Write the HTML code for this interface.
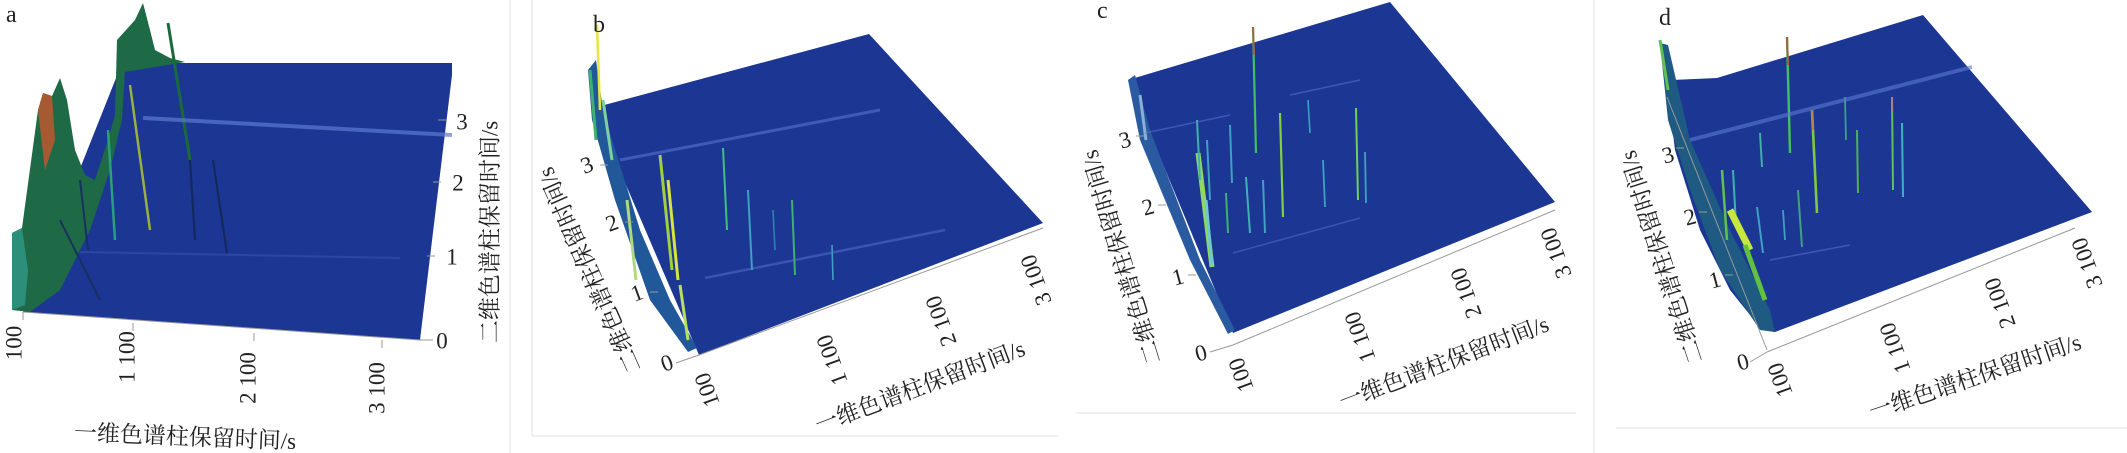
<!DOCTYPE html>
<html><head><meta charset="utf-8"><style>
html,body{margin:0;padding:0;background:#fff;}
svg{display:block;}
text{font-family:"Liberation Serif","Noto Serif CJK SC",serif;fill:#222;}
.t{font-size:23px;}
.ti{font-size:23px;}
.lb{font-size:24px;}
</style></head><body>
<svg width="2127" height="453" viewBox="0 0 2127 453" xmlns="http://www.w3.org/2000/svg">
<rect width="2127" height="453" fill="#fff"/>
<g stroke="#e6e6e6" stroke-width="1.2" fill="none">
<line x1="510" y1="0" x2="510" y2="453"/>
<line x1="532" y1="0" x2="532" y2="436"/>
<line x1="532" y1="436" x2="1058" y2="436"/>
<line x1="1076" y1="413" x2="1576" y2="413"/>
<line x1="1594" y1="0" x2="1594" y2="453"/>
<line x1="1616" y1="428" x2="2127" y2="428"/>
</g>

<!-- ===== Panel a ===== -->
<polygon points="23,312 122,63 452,63 452,75 420,340" fill="#1c3694"/>
<polygon points="12,310 12,233 22,228 38,110 43,93 52,96 60,78 67,100 75,150 85,175 95,180 108,140 115,115 117,40 135,20 143,3 150,30 155,50 170,58 185,62 125,72 122,120 110,170 90,230 60,290 30,312" fill="#1f6a46"/>
<polygon points="38,110 43,93 52,96 55,140 45,170" fill="#a65a32"/>
<polygon points="12,310 12,233 22,228 28,270 25,305" fill="#2c8f7a"/>
<g fill="none">
<line x1="168" y1="23" x2="190" y2="160" stroke="#1c6a3a" stroke-width="3"/>
<line x1="130" y1="85" x2="150" y2="230" stroke="#9ab040" stroke-width="2.5"/>
<line x1="108" y1="130" x2="115" y2="240" stroke="#2aa07a" stroke-width="2.5"/>
<line x1="213" y1="160" x2="227" y2="253" stroke="#14285a" stroke-width="2"/>
<line x1="190" y1="160" x2="195" y2="240" stroke="#14285a" stroke-width="2"/>
<line x1="80" y1="180" x2="88" y2="250" stroke="#173060" stroke-width="2"/>
<line x1="60" y1="220" x2="100" y2="300" stroke="#173060" stroke-width="2"/>
</g>
<line x1="143" y1="118" x2="452" y2="135" stroke="#5b7bd0" stroke-width="4" opacity="0.7"/>
<line x1="80" y1="252" x2="400" y2="258" stroke="#3a58b0" stroke-width="2" opacity="0.5"/>
<g stroke="#999" stroke-width="1"><line x1="23" y1="312" x2="420" y2="340"/><line x1="420" y1="340" x2="433" y2="340"/>
<line x1="23" y1="312" x2="23" y2="320"/><line x1="133" y1="323" x2="133" y2="331"/><line x1="254" y1="333" x2="254" y2="341"/><line x1="382" y1="340" x2="382" y2="348"/>
<line x1="427" y1="256" x2="435" y2="256"/><line x1="433" y1="182" x2="441" y2="182"/><line x1="438" y1="120" x2="446" y2="120"/></g>
<text class="lb" x="6" y="22">a</text>
<g class="t">
<text transform="translate(14,343) rotate(-90)" text-anchor="middle" dominant-baseline="central">100</text>
<text transform="translate(127,357) rotate(-90)" text-anchor="middle" dominant-baseline="central">1 100</text>
<text transform="translate(248,378) rotate(-90)" text-anchor="middle" dominant-baseline="central">2 100</text>
<text transform="translate(377,388) rotate(-90)" text-anchor="middle" dominant-baseline="central">3 100</text>
<text x="442" y="341" text-anchor="middle" dominant-baseline="central">0</text>
<text x="452" y="257" text-anchor="middle" dominant-baseline="central">1</text>
<text x="458" y="183" text-anchor="middle" dominant-baseline="central">2</text>
<text x="462" y="122" text-anchor="middle" dominant-baseline="central">3</text>
</g>
<text class="ti" transform="translate(490,232) rotate(-90)" text-anchor="middle" dominant-baseline="central">二维色谱柱保留时间/s</text>
<text class="ti" transform="translate(185,437) rotate(2.3)" text-anchor="middle" dominant-baseline="central">一维色谱柱保留时间/s</text>

<!-- ===== Panel b ===== -->
<polygon points="593,108 869,34 1043,223 699,355" fill="#1c3694"/>
<polygon points="588,70 596,60 603,110 640,230 670,300 697,348 688,352 650,300 615,200 592,120" fill="#21589a"/>
<g fill="none">
<line x1="597" y1="25" x2="600" y2="110" stroke="#e6e640" stroke-width="2.5"/>
<line x1="590" y1="70" x2="596" y2="140" stroke="#40b070" stroke-width="3"/>
<line x1="603" y1="100" x2="612" y2="160" stroke="#7fd0a0" stroke-width="3"/>
<line x1="627" y1="200" x2="636" y2="280" stroke="#b0d880" stroke-width="3"/>
<line x1="660" y1="155" x2="672" y2="270" stroke="#a0d040" stroke-width="3"/>
<line x1="668" y1="180" x2="678" y2="280" stroke="#d8e440" stroke-width="3"/>
<line x1="680" y1="285" x2="688" y2="340" stroke="#b8e060" stroke-width="3"/>
<line x1="723" y1="148" x2="727" y2="230" stroke="#40c080" stroke-width="2"/>
<line x1="748" y1="190" x2="752" y2="270" stroke="#40a0c0" stroke-width="2"/>
<line x1="773" y1="210" x2="775" y2="250" stroke="#3080b0" stroke-width="1.6"/>
<line x1="792" y1="200" x2="795" y2="275" stroke="#40b070" stroke-width="2"/>
<line x1="832" y1="245" x2="833" y2="280" stroke="#40a0c0" stroke-width="1.6"/>
</g>
<line x1="620" y1="160" x2="880" y2="110" stroke="#5b7bd0" stroke-width="3" opacity="0.55"/>
<line x1="705" y1="278" x2="945" y2="230" stroke="#5b7bd0" stroke-width="2.5" opacity="0.45"/>
<g stroke="#999" stroke-width="1"><line x1="676" y1="363" x2="699" y2="355"/><line x1="699" y1="355" x2="1043" y2="228"/>
<line x1="600" y1="165" x2="608" y2="165"/><line x1="625" y1="222" x2="633" y2="222"/><line x1="650" y1="292" x2="658" y2="292"/></g>
<text class="lb" x="593" y="32">b</text>
<g class="t">
<text transform="translate(707,390) rotate(-110)" text-anchor="middle" dominant-baseline="central">100</text>
<text transform="translate(832,360) rotate(-110)" text-anchor="middle" dominant-baseline="central">1 100</text>
<text transform="translate(941,321) rotate(-110)" text-anchor="middle" dominant-baseline="central">2 100</text>
<text transform="translate(1036,280) rotate(-110)" text-anchor="middle" dominant-baseline="central">3 100</text>
<text transform="translate(667,363) rotate(-20)" text-anchor="middle" dominant-baseline="central">0</text>
<text transform="translate(637,293) rotate(-20)" text-anchor="middle" dominant-baseline="central">1</text>
<text transform="translate(612,223) rotate(-20)" text-anchor="middle" dominant-baseline="central">2</text>
<text transform="translate(587,165) rotate(-20)" text-anchor="middle" dominant-baseline="central">3</text>
</g>
<text class="ti" transform="translate(590,270) rotate(-114)" text-anchor="middle" dominant-baseline="central">二维色谱柱保留时间/s</text>
<text class="ti" transform="translate(920,387) rotate(-20.7)" text-anchor="middle" dominant-baseline="central">一维色谱柱保留时间/s</text>

<!-- ===== Panel c ===== -->
<polygon points="1128,80 1390,2 1555,202 1233,333" fill="#1c3694"/>
<polygon points="1128,80 1135,75 1150,130 1200,260 1235,330 1228,334 1190,260 1140,140" fill="#2a5aa0"/>
<g fill="none">
<line x1="1140" y1="95" x2="1146" y2="140" stroke="#8ab0d8" stroke-width="3"/>
<line x1="1198" y1="153" x2="1212" y2="267" stroke="#90d860" stroke-width="5"/>
<line x1="1206" y1="200" x2="1212" y2="265" stroke="#70c8d0" stroke-width="3"/>
<line x1="1197" y1="120" x2="1200" y2="180" stroke="#40b0b0" stroke-width="2"/>
<line x1="1207" y1="140" x2="1210" y2="200" stroke="#40a0c0" stroke-width="2"/>
<line x1="1230" y1="125" x2="1232" y2="183" stroke="#40a0c0" stroke-width="2"/>
<line x1="1253" y1="27" x2="1256" y2="153" stroke="#40c060" stroke-width="2.2"/>
<line x1="1253" y1="27" x2="1254" y2="55" stroke="#b06040" stroke-width="2"/>
<line x1="1280" y1="113" x2="1283" y2="217" stroke="#80d040" stroke-width="2.2"/>
<line x1="1308" y1="100" x2="1310" y2="133" stroke="#40a0c0" stroke-width="1.6"/>
<line x1="1246" y1="177" x2="1250" y2="233" stroke="#40b0b0" stroke-width="2"/>
<line x1="1263" y1="180" x2="1265" y2="233" stroke="#40a0c0" stroke-width="2"/>
<line x1="1226" y1="193" x2="1228" y2="233" stroke="#40b070" stroke-width="2"/>
<line x1="1323" y1="160" x2="1325" y2="207" stroke="#40a0c0" stroke-width="1.8"/>
<line x1="1356" y1="108" x2="1358" y2="200" stroke="#70d050" stroke-width="2"/>
<line x1="1365" y1="152" x2="1366" y2="203" stroke="#40a0c0" stroke-width="1.8"/>
</g>
<line x1="1145" y1="133" x2="1230" y2="115" stroke="#5b7bd0" stroke-width="1.5" opacity="0.5"/>
<line x1="1290" y1="95" x2="1360" y2="80" stroke="#5b7bd0" stroke-width="1.5" opacity="0.5"/>
<line x1="1233" y1="253" x2="1360" y2="218" stroke="#5b7bd0" stroke-width="1.5" opacity="0.45"/>
<g stroke="#999" stroke-width="1"><line x1="1210" y1="352" x2="1233" y2="345"/><line x1="1233" y1="345" x2="1555" y2="210"/>
<line x1="1136" y1="136" x2="1144" y2="136"/><line x1="1158" y1="205" x2="1166" y2="205"/><line x1="1188" y1="275" x2="1196" y2="275"/></g>
<text class="lb" x="1097" y="18">c</text>
<g class="t">
<text transform="translate(1241,375) rotate(-110)" text-anchor="middle" dominant-baseline="central">100</text>
<text transform="translate(1360,337) rotate(-110)" text-anchor="middle" dominant-baseline="central">1 100</text>
<text transform="translate(1466,293) rotate(-110)" text-anchor="middle" dominant-baseline="central">2 100</text>
<text transform="translate(1556,253) rotate(-110)" text-anchor="middle" dominant-baseline="central">3 100</text>
<text transform="translate(1201,353) rotate(-15)" text-anchor="middle" dominant-baseline="central">0</text>
<text transform="translate(1178,277) rotate(-15)" text-anchor="middle" dominant-baseline="central">1</text>
<text transform="translate(1148,207) rotate(-15)" text-anchor="middle" dominant-baseline="central">2</text>
<text transform="translate(1125,140) rotate(-15)" text-anchor="middle" dominant-baseline="central">3</text>
</g>
<text class="ti" transform="translate(1122,257) rotate(-107)" text-anchor="middle" dominant-baseline="central">二维色谱柱保留时间/s</text>
<text class="ti" transform="translate(1444,363) rotate(-21)" text-anchor="middle" dominant-baseline="central">一维色谱柱保留时间/s</text>

<!-- ===== Panel d ===== -->
<polygon points="1662,43 1672,80 1717,78 1923,15 2092,212 1775,332 1762,330 1730,290 1700,230 1675,150" fill="#1c3694"/>
<polygon points="1660,43 1668,45 1690,140 1730,230 1770,310 1775,332 1760,330 1720,270 1690,190 1668,120" fill="#1e5a82"/>
<g fill="none">
<line x1="1660" y1="40" x2="1668" y2="90" stroke="#60c050" stroke-width="3"/>
<line x1="1722" y1="170" x2="1727" y2="240" stroke="#60c050" stroke-width="2.5"/>
<line x1="1733" y1="170" x2="1736" y2="225" stroke="#40b0b0" stroke-width="2"/>
<line x1="1730" y1="210" x2="1750" y2="250" stroke="#c8e840" stroke-width="7"/>
<line x1="1745" y1="245" x2="1765" y2="300" stroke="#60c040" stroke-width="5"/>
<line x1="1760" y1="133" x2="1762" y2="167" stroke="#40b0a0" stroke-width="2"/>
<line x1="1757" y1="207" x2="1763" y2="253" stroke="#40a0c0" stroke-width="2"/>
<line x1="1783" y1="210" x2="1785" y2="240" stroke="#40a0c0" stroke-width="1.8"/>
<line x1="1787" y1="37" x2="1790" y2="153" stroke="#40c060" stroke-width="2.4"/>
<line x1="1787" y1="37" x2="1788" y2="65" stroke="#b05a3a" stroke-width="2"/>
<line x1="1798" y1="190" x2="1802" y2="247" stroke="#40a080" stroke-width="2"/>
<line x1="1812" y1="110" x2="1817" y2="213" stroke="#80c840" stroke-width="2.6"/>
<line x1="1812" y1="110" x2="1813" y2="130" stroke="#c08040" stroke-width="2"/>
<line x1="1845" y1="97" x2="1846" y2="140" stroke="#40a080" stroke-width="1.8"/>
<line x1="1857" y1="130" x2="1858" y2="193" stroke="#50b050" stroke-width="2"/>
<line x1="1892" y1="97" x2="1893" y2="190" stroke="#60c060" stroke-width="2"/>
<line x1="1892" y1="97" x2="1892" y2="112" stroke="#b08080" stroke-width="2"/>
<line x1="1902" y1="123" x2="1903" y2="197" stroke="#40b0c0" stroke-width="2"/>
</g>
<line x1="1690" y1="140" x2="1972" y2="67" stroke="#5b7bd0" stroke-width="4" opacity="0.6"/>
<line x1="1770" y1="260" x2="1850" y2="245" stroke="#5b7bd0" stroke-width="1.5" opacity="0.5"/>
<g stroke="#999" stroke-width="1"><line x1="1667" y1="97" x2="1767" y2="350"/><line x1="1767" y1="352" x2="2075" y2="228"/><line x1="1750" y1="362" x2="1767" y2="352"/>
<line x1="1676" y1="148" x2="1684" y2="148"/><line x1="1699" y1="212" x2="1707" y2="212"/><line x1="1725" y1="275" x2="1733" y2="275"/></g>
<text class="lb" x="1659" y="25">d</text>
<g class="t">
<text transform="translate(1780,380) rotate(-110)" text-anchor="middle" dominant-baseline="central">100</text>
<text transform="translate(1895,348) rotate(-110)" text-anchor="middle" dominant-baseline="central">1 100</text>
<text transform="translate(2000,303) rotate(-110)" text-anchor="middle" dominant-baseline="central">2 100</text>
<text transform="translate(2087,263) rotate(-110)" text-anchor="middle" dominant-baseline="central">3 100</text>
<text transform="translate(1743,362) rotate(-15)" text-anchor="middle" dominant-baseline="central">0</text>
<text transform="translate(1715,280) rotate(-15)" text-anchor="middle" dominant-baseline="central">1</text>
<text transform="translate(1690,217) rotate(-15)" text-anchor="middle" dominant-baseline="central">2</text>
<text transform="translate(1668,155) rotate(-15)" text-anchor="middle" dominant-baseline="central">3</text>
</g>
<text class="ti" transform="translate(1662,257) rotate(-108)" text-anchor="middle" dominant-baseline="central">二维色谱柱保留时间/s</text>
<text class="ti" transform="translate(1975,377) rotate(-18.7)" text-anchor="middle" dominant-baseline="central">一维色谱柱保留时间/s</text>
</svg>
</body></html>
